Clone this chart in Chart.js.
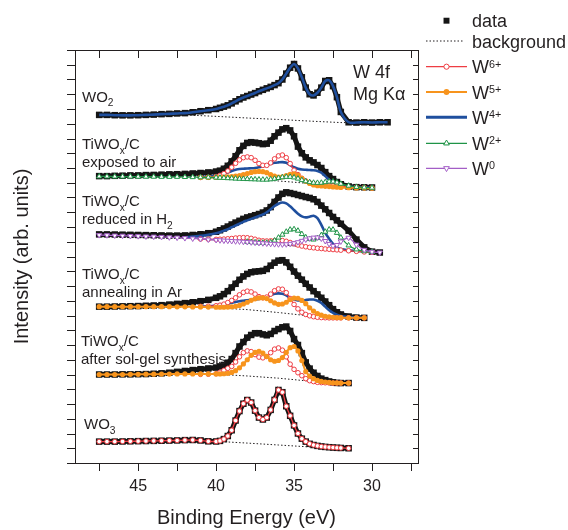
<!DOCTYPE html>
<html>
<head>
<meta charset="utf-8">
<script src="https://cdn.jsdelivr.net/npm/chart.js@4.4.0/dist/chart.umd.min.js"></script>
<style>
  html, body { margin: 0; padding: 0; background: #fff; }
  canvas { display: block; }
</style>
</head>
<body>
<canvas id="xps" width="568" height="530"></canvas>
<script>
// binding energy grid (eV), denser over the W 4f region
const E_GRID = [47.5, 47, 46.5, 46, 45.5, 45, 44.5, 44, 43.5, 43, 42.5, 42, 41.5, 41, 40.5, 40,
  39.75, 39.5, 39.25, 39, 38.75, 38.5, 38.25, 38, 37.75, 37.5, 37.25, 37, 36.75, 36.5, 36.25, 36,
  35.75, 35.5, 35.25, 35, 34.75, 34.5, 34.25, 34, 33.75, 33.5, 33.25, 33, 32.75, 32.5, 32.25, 32,
  31.5, 31, 30.5, 30, 29.5, 29];
// background points (eV)
const BG_E = [47.5, 44, 42, 40, 38, 36, 34, 33, 32, 31.5, 31, 30.5, 30, 29.5, 29];

const X_TICKS = [45, 40, 35, 30];
const X_MINOR = [47.5, 42.5, 37.5, 32.5, 27.5];
const X_MIN = 27.05, X_MAX = 49.05;
const Y_MAX = 28;

// WO2
const WO2_DATA = [23.6, 23.6, 23.58, 23.57, 23.57, 23.58, 23.6, 23.62, 23.65, 23.67, 23.7, 23.72, 23.78, 23.85, 23.92, 24.0,
  24.08, 24.16, 24.25, 24.38, 24.52, 24.66, 24.78, 24.88, 24.98, 25.08, 25.2, 25.3, 25.4, 25.5, 25.62, 25.75,
  26.0, 26.4, 26.8, 27.05, 26.75, 26.15, 25.45, 25.0, 24.92, 25.1, 25.45, 25.9, 25.95, 25.55, 24.8, 23.8,
  23.1, 23.08, 23.1, 23.08, 23.1, 23.1];
const WO2_W4 = WO2_DATA;
const WO2_BG = [23.6, 23.6, 23.6, 23.5, 23.39, 23.29, 23.18, 23.13, 23.08, 23.08, 23.08, 23.08, 23.08, 23.08, 23.08];

// TiWOx/C exposed to air
const AIR_DATA = [19.45, 19.45, 19.47, 19.48, 19.5, 19.5, 19.52, 19.53, 19.55, 19.57, 19.58, 19.6, 19.63, 19.66, 19.7, 19.76,
  19.82, 19.95, 20.15, 20.45, 20.8, 21.2, 21.5, 21.7, 21.75, 21.72, 21.68, 21.62, 21.65, 21.85, 22.15, 22.4,
  22.62, 22.7, 22.55, 22.15, 21.45, 21.0, 20.72, 20.52, 20.38, 20.2, 20.0, 19.72, 19.45, 19.25, 19.05, 18.9,
  18.75, 18.7, 18.69, 18.68];
const AIR_BG = [19.43, 19.42, 19.4, 19.35, 19.25, 19.12, 18.95, 18.86, 18.78, 18.74, 18.71, 18.68, 18.66];
const AIR_W6 = [19.36, 19.37, 19.42,
  19.5, 19.62, 19.8, 20.05, 20.32, 20.55, 20.7, 20.75, 20.7, 20.52, 20.3, 20.18, 20.18, 20.35, 20.62, 20.82,
  20.88, 20.7, 20.3, 19.85, 19.55, 19.3, 19.12, 19.0, 18.95, 18.9, 18.87, 18.85, 18.82, 18.8, 18.78, 18.76,
  18.72, 18.7, 18.68, 18.66];
const AIR_W5 = [19.36, 19.36, 19.36,
  19.37, 19.38, 19.4, 19.42, 19.45, 19.48, 19.55, 19.62, 19.7, 19.75, 19.77, 19.75, 19.68, 19.55, 19.45, 19.38,
  19.4, 19.48, 19.57, 19.6, 19.5, 19.3, 19.1, 18.95, 18.85, 18.8, 18.78, 18.76, 18.74, 18.72, 18.7, 18.68,
  18.66, 18.65, 18.64, 18.63];
const AIR_W4 = [19.38, 19.42, 19.47,
  19.52, 19.6, 19.7, 19.8, 19.88, 19.93, 19.95, 19.97, 19.98, 20.0, 20.05, 20.12, 20.2, 20.28, 20.35, 20.38,
  20.4, 20.35, 20.2, 20.05, 19.95, 19.9, 19.88, 19.86, 19.85, 19.8, 19.68, 19.45, 19.2, 19.0, 18.85, 18.78,
  18.72, 18.7, 18.68, 18.66];
const AIR_W2 = [19.43, 19.43, 19.42, 19.42, 19.42, 19.41, 19.41, 19.41, 19.4, 19.4, 19.4, 19.39, 19.38, 19.37, 19.36, 19.35,
  19.34, 19.33, 19.31, 19.3, 19.28, 19.27, 19.26, 19.25, 19.24, 19.23, 19.22, 19.21, 19.21, 19.23, 19.27, 19.32,
  19.37, 19.4, 19.4, 19.36, 19.28, 19.18, 19.1, 19.04, 19.0, 18.99, 19.0, 19.04, 19.08, 19.08, 19.02, 18.93,
  18.8, 18.72, 18.68, 18.66];

// TiWOx/C reduced in H2
const H2_DATA = [15.5, 15.5, 15.49, 15.48, 15.47, 15.46, 15.45, 15.44, 15.43, 15.42, 15.42, 15.43, 15.46, 15.51, 15.58, 15.68,
  15.78, 15.9, 16.03, 16.17, 16.3, 16.42, 16.55, 16.65, 16.72, 16.8, 16.88, 16.98, 17.12, 17.35, 17.7, 18.0,
  18.25, 18.35, 18.3, 18.24, 18.17, 18.1, 18.03, 17.97, 17.88, 17.7, 17.45, 17.2, 16.95, 16.68, 16.45, 16.22,
  15.75, 15.15, 14.62, 14.33, 14.27];
const H2_BG = [15.45, 15.35, 15.25, 15.12, 14.98, 14.82, 14.62, 14.52, 14.42, 14.38, 14.34, 14.31, 14.29, 14.27];
const H2_W6 = [15.19, 15.17, 15.16,
  15.17, 15.18, 15.2, 15.22, 15.25, 15.27, 15.28, 15.27, 15.23, 15.17, 15.1, 15.06, 15.05, 15.06, 15.08, 15.09,
  15.08, 15.03, 14.95, 14.86, 14.78, 14.71, 14.66, 14.62, 14.59, 14.56, 14.54, 14.51, 14.49, 14.47, 14.45, 14.43,
  14.39, 14.35, 14.31, 14.28];
const H2_W4 = [15.3, 15.35, 15.4, 15.48, 15.58,
  15.65, 15.75, 15.85, 15.98, 16.1, 16.22, 16.35, 16.45, 16.55, 16.65, 16.75, 16.85, 17.0, 17.2, 17.42, 17.58,
  17.66, 17.6, 17.4, 17.15, 16.9, 16.72, 16.65, 16.7, 16.76, 16.6, 16.15, 15.6, 15.2, 14.85, 14.62, 14.5,
  14.42, 14.38, 14.34, 14.3];
const H2_W2 = [15.0, 14.98, 14.96, 14.94, 14.93, 14.93, 14.96, 15.08, 15.28,
  15.48, 15.68, 15.82, 15.85, 15.75, 15.52, 15.3, 15.18, 15.15, 15.25, 15.45, 15.68, 15.83, 15.82, 15.6, 15.28,
  14.75, 14.48, 14.36, 14.31];
const H2_W0 = [15.45, 15.44, 15.42, 15.41, 15.39, 15.38, 15.36, 15.35, 15.33, 15.3, 15.28, 15.25, 15.22, 15.19, 15.15, 15.12,
  15.1, 15.08, 15.07, 15.05, 15.03, 15.02, 15.0, 14.98, 14.96, 14.94, 14.92, 14.9, 14.88, 14.86, 14.84, 14.83,
  14.82, 14.83, 14.86, 14.9, 14.97, 15.06, 15.15, 15.23, 15.28, 15.29, 15.22, 15.05, 14.85, 14.72, 14.78, 15.02,
  15.27, 14.8, 14.45, 14.32, 14.27];

// TiWOx/C annealing in Ar
const AR_DATA = [10.6, 10.6, 10.61, 10.62, 10.63, 10.64, 10.66, 10.68, 10.7, 10.74, 10.79, 10.84, 10.9, 10.97, 11.06, 11.2,
  11.3, 11.45, 11.65, 11.9, 12.15, 12.42, 12.65, 12.82, 12.93, 12.98, 13.0, 13.03, 13.15, 13.38, 13.58, 13.72,
  13.75, 13.6, 13.3, 12.98, 12.7, 12.43, 12.15, 11.9, 11.65, 11.43, 11.2, 10.95, 10.7, 10.43, 10.22, 10.07,
  9.93, 9.86, 9.84];
const AR_BG = [10.6, 10.6, 10.58, 10.52, 10.4, 10.2, 9.97, 9.88, 9.85, 9.84, 9.84, 9.84];
const AR_W6 = [10.62, 10.63, 10.66,
  10.7, 10.77, 10.88, 11.02, 11.2, 11.4, 11.57, 11.65, 11.6, 11.45, 11.28, 11.2, 11.25, 11.45, 11.68, 11.8,
  11.78, 11.55, 11.15, 10.75, 10.45, 10.22, 10.07, 9.98, 9.92, 9.88, 9.86, 9.85, 9.84, 9.84, 9.84, 9.84,
  9.84, 9.84, 9.84];
const AR_W4 = [10.6, 10.63, 10.68,
  10.72, 10.76, 10.8, 10.86, 10.92, 10.97, 11.0, 11.03, 11.05, 11.08, 11.12, 11.18, 11.27, 11.38, 11.47, 11.5,
  11.47, 11.36, 11.2, 11.08, 11.02, 11.02, 11.05, 11.08, 11.08, 11.0, 10.85, 10.6, 10.35, 10.18, 10.05, 9.97,
  9.9, 9.86, 9.84];
const AR_W5 = [10.6, 10.6, 10.6, 10.6, 10.6, 10.6, 10.6, 10.6, 10.6, 10.6, 10.59, 10.59, 10.58, 10.58, 10.57, 10.56,
  10.56, 10.56, 10.57, 10.59, 10.62, 10.68, 10.78, 10.9, 11.03, 11.13, 11.19, 11.2, 11.15, 11.0, 10.85, 10.76,
  10.78, 10.9, 11.08, 11.18, 11.17, 11.02, 10.8, 10.52, 10.3, 10.13, 10.02, 9.95, 9.91, 9.88, 9.86, 9.85,
  9.84, 9.84, 9.84];

// TiWOx/C after sol-gel synthesis
const SG_DATA = [6.0, 6.0, 6.0, 6.01, 6.01, 6.02, 6.03, 6.05, 6.08, 6.12, 6.18, 6.24, 6.3, 6.36, 6.41, 6.47,
  6.55, 6.65, 6.8, 7.05, 7.45, 7.9, 8.2, 8.5, 8.68, 8.8, 8.8, 8.72, 8.66, 8.75, 8.95, 9.08,
  9.2, 9.25, 8.95, 8.4, 8.0, 7.45, 6.82, 6.4, 6.12, 5.9, 5.72, 5.62, 5.53, 5.47, 5.43, 5.42,
  5.42];
const SG_BG = [6.0, 6.01, 6.02, 6.02, 5.9, 5.75, 5.55, 5.46, 5.43, 5.42];
const SG_W6 = [6.01, 6.02, 6.05,
  6.15, 6.28, 6.42, 6.55, 6.85, 7.2, 7.48, 7.6, 7.55, 7.35, 7.18, 7.13, 7.22, 7.48, 7.72, 7.8,
  7.65, 7.2, 6.7, 6.35, 6.12, 5.92, 5.72, 5.58, 5.52, 5.47, 5.45, 5.44, 5.43, 5.42, 5.42, 5.42,
  5.42];
const SG_W5 = [6.0, 6.0, 6.0, 6.0, 6.01, 6.01, 6.02, 6.02, 6.03, 6.03, 6.04, 6.04, 6.04, 6.04, 6.04, 6.04,
  6.04, 6.05, 6.08, 6.14, 6.26, 6.45, 6.72, 7.0, 7.3, 7.5, 7.57, 7.45, 7.22, 7.0, 6.9, 6.95,
  7.15, 7.5, 7.82, 7.9, 7.6, 6.95, 6.2, 5.9, 5.72, 5.6, 5.53, 5.49, 5.46, 5.44, 5.43, 5.42,
  5.42];

// WO3
const WO3_DATA = [1.45, 1.45, 1.45, 1.46, 1.47, 1.48, 1.49, 1.5, 1.51, 1.52, 1.53, 1.55, 1.56, 1.53, 1.47, 1.46,
  1.5, 1.62, 1.83, 2.22, 2.88, 3.52, 4.02, 4.27, 4.1, 3.55, 3.08, 2.95, 3.08, 3.6, 4.28, 4.95,
  4.8, 3.85, 3.2, 2.55, 2.0, 1.65, 1.45, 1.3, 1.22, 1.16, 1.12, 1.09, 1.07, 1.05, 1.03, 1.02,
  1.0];
const WO3_W6 = WO3_DATA;
const WO3_BG = [1.45, 1.46, 1.48, 1.47, 1.35, 1.22, 1.09, 1.05, 1.02, 1.0];

const INK = '#231f20';
const FONT = '"Liberation Sans", Arial, Helvetica, sans-serif';
const RED = '#ee3d43', ORANGE = '#f7941d', BLUE = '#1f4f9e', GREEN = '#1f9447', PURPLE = '#a35ec6';

const STYLES = {
  data: { borderColor: '#151515', backgroundColor: '#151515', borderWidth: 5, pointStyle: 'rect', pointRadius: 4.6, pointBorderWidth: 0, tension: 0, order: 9 },
  bg:   { borderColor: INK, borderWidth: 1, borderDash: [1.5, 2], pointRadius: 0, tension: 0, order: 7 },
  w4:   { borderColor: BLUE, borderWidth: 2.6, pointRadius: 0, tension: 0.3, order: 5 },
  w6:   { borderColor: RED, borderWidth: 1.3, pointStyle: 'circle', pointRadius: 2.3, pointBorderWidth: 1, pointBorderColor: RED, pointBackgroundColor: '#fff', tension: 0.3, order: 4 },
  w5:   { borderColor: ORANGE, borderWidth: 2, pointStyle: 'circle', pointRadius: 2.6, pointBorderWidth: 0, pointBackgroundColor: ORANGE, tension: 0.3, order: 3 },
  w2:   { borderColor: GREEN, borderWidth: 1.3, pointStyle: 'triangle', pointRadius: 3, pointBorderWidth: 1, pointBorderColor: GREEN, pointBackgroundColor: '#fff', tension: 0.3, order: 2 },
  w0:   { borderColor: PURPLE, borderWidth: 1.3, pointStyle: 'triangle', pointRotation: 180, pointRadius: 3, pointBorderWidth: 1, pointBorderColor: PURPLE, pointBackgroundColor: '#fff', tension: 0.3, order: 1 }
};

// [values, first energy, style, energy grid]
const SERIES = [
  [WO2_DATA, 47.5, 'data'], [WO2_BG, 47.5, 'bg', BG_E], [WO2_W4, 47.5, 'w4'],
  [AIR_DATA, 47.5, 'data'], [AIR_BG, 47.5, 'bg', BG_E], [AIR_W4, 41, 'w4'], [AIR_W6, 41, 'w6'], [AIR_W5, 41, 'w5'], [AIR_W2, 47.5, 'w2'],
  [H2_DATA, 47.5, 'data'], [H2_BG, 47.5, 'bg', BG_E], [H2_W4, 42, 'w4'], [H2_W6, 41, 'w6'], [H2_W2, 38, 'w2'], [H2_W0, 47.5, 'w0'],
  [AR_DATA, 47.5, 'data'], [AR_BG, 47.5, 'bg', BG_E], [AR_W4, 41, 'w4'], [AR_W6, 41, 'w6'], [AR_W5, 47.5, 'w5'],
  [SG_DATA, 47.5, 'data'], [SG_BG, 47.5, 'bg', BG_E], [SG_W6, 41, 'w6'], [SG_W5, 47.5, 'w5'],
  [WO3_DATA, 47.5, 'data'], [WO3_BG, 47.5, 'bg', BG_E], [WO3_W6, 47.5, 'w6']
];

function toPoints(values, from, grid) {
  const i0 = grid.indexOf(from);
  return values.map((v, i) => ({ x: grid[i0 + i], y: v }));
}

const datasets = SERIES.map(([values, from, style, grid]) => Object.assign({
  data: toPoints(values, from, grid || E_GRID), fill: false
}, STYLES[style]));

// text with sub/superscripts: parts = [[text, ''|'sub'|'sup'], ...]
function richText(ctx, parts, x, y, size) {
  parts.forEach(([t, mode]) => {
    const s = mode ? size * (mode === 'sup' ? 0.6 : 0.68) : size;
    const dy = mode === 'sub' ? size * 0.33 : mode === 'sup' ? -size * 0.3 : 0;
    ctx.font = `${s}px ${FONT}`;
    ctx.fillText(t, x, y + dy);
    x += ctx.measureText(t).width;
  });
  return x;
}

const TIWOX = [['TiWO', ''], ['x', 'sub'], ['/C', '']];
const SAMPLE_LABELS = [
  [[['WO', ''], ['2', 'sub']]],
  [TIWOX, [['exposed to air', '']]],
  [TIWOX, [['reduced in H', ''], ['2', 'sub']]],
  [TIWOX, [['annealing in Ar', '']]],
  [TIWOX, [['after sol-gel synthesis', '']]],
  [[['WO', ''], ['3', 'sub']]]
];
const LABEL_POS = [[82, 101.5], [82, 149], [82, 206], [82, 279], [81, 346], [84, 429]];

const LEGEND_ITEMS = [
  ['data', [['data', '']]],
  ['bg', [['background', '']]],
  ['w6', [['W', ''], ['6+', 'sup']]],
  ['w5', [['W', ''], ['5+', 'sup']]],
  ['w4', [['W', ''], ['4+', 'sup']]],
  ['w2', [['W', ''], ['2+', 'sup']]],
  ['w0', [['W', ''], ['0', 'sup']]]
];
const LEGEND_ROWS = [20.7, 41, 66.7, 92, 117.3, 143.3, 168.3];

const framePlugin = {
  id: 'frame',
  afterDatasetsDraw(chart) {
    const { ctx, chartArea: a, scales: { x, y } } = chart;
    ctx.save();
    ctx.strokeStyle = INK;
    ctx.lineWidth = 1;
    ctx.strokeRect(a.left + 0.5, a.top + 0.5, a.right - a.left, a.bottom - a.top);
    ctx.beginPath();
    X_TICKS.concat(X_MINOR).forEach(v => {
      const px = Math.round(x.getPixelForValue(v)) + 0.5;
      ctx.moveTo(px, a.bottom); ctx.lineTo(px, a.bottom + 8);
      ctx.moveTo(px, a.top); ctx.lineTo(px, a.top + 8);
    });
    y.ticks.forEach(t => {
      const py = Math.round(y.getPixelForValue(t.value)) + 0.5;
      ctx.moveTo(a.left, py); ctx.lineTo(a.left - 8, py);
      ctx.moveTo(a.right, py); ctx.lineTo(a.right - 5, py);
    });
    ctx.stroke();
    ctx.restore();
  }
};

const textPlugin = {
  id: 'texts',
  afterDraw(chart) {
    const ctx = chart.ctx;
    ctx.save();
    ctx.fillStyle = INK;
    ctx.textBaseline = 'alphabetic';
    SAMPLE_LABELS.forEach((lines, i) => {
      const [lx, ly] = LABEL_POS[i];
      lines.forEach((parts, j) => richText(ctx, parts, lx, ly + j * 18, 15));
    });
    richText(ctx, [['W 4f', '']], 353, 77.5, 18);
    richText(ctx, [['Mg K\u03b1', '']], 353, 100, 18);

    // legend
    LEGEND_ITEMS.forEach(([key, parts], i) => {
      const ry = LEGEND_ROWS[i];
      const st = STYLES[key];
      ctx.save();
      if (key !== 'data') {
        ctx.strokeStyle = st.borderColor;
        ctx.lineWidth = key === 'w4' ? 3 : (st.borderWidth || 1);
        ctx.setLineDash(st.borderDash || []);
        ctx.beginPath();
        ctx.moveTo(426, ry); ctx.lineTo(key === 'bg' ? 463 : 467, ry);
        ctx.stroke();
        ctx.setLineDash([]);
      }
      if (st.pointRadius) {
        ctx.fillStyle = st.pointBackgroundColor || st.backgroundColor;
        ctx.strokeStyle = st.pointBorderColor || st.borderColor;
        ctx.lineWidth = st.pointBorderWidth || 0;
        Chart.helpers.drawPoint(ctx, {
          pointStyle: st.pointStyle, radius: key === 'data' ? 4.2 : st.pointRadius + 0.3,
          rotation: st.pointRotation || 0, borderWidth: st.pointBorderWidth || 0
        }, 446.5, ry);
      }
      ctx.restore();
      ctx.fillStyle = INK;
      richText(ctx, parts, 472, ry + 6.5, 18);
    });
    ctx.restore();
  }
};

Chart.defaults.font.family = FONT;
Chart.defaults.color = INK;

new Chart(document.getElementById('xps'), {
  type: 'line',
  data: { datasets },
  options: {
    responsive: false,
    animation: false,
    events: [],
    layout: { padding: { top: 50, right: 150, left: 0, bottom: 0 } },
    plugins: { legend: { display: false }, tooltip: { enabled: false } },
    scales: {
      x: {
        type: 'linear', reverse: true, min: X_MIN, max: X_MAX,
        afterFit: s => { s.height = 67; },
        afterBuildTicks: s => { s.ticks = X_TICKS.map(v => ({ value: v })); },
        grid: { display: false, drawTicks: false },
        border: { display: false },
        ticks: { font: { size: 16 }, color: INK, padding: 14, maxRotation: 0, autoSkip: false },
        title: { display: true, text: 'Binding Energy (eV)', font: { size: 20 }, color: INK, padding: { top: 0, bottom: 0 } }
      },
      y: {
        type: 'linear', min: 0, max: Y_MAX,
        afterFit: s => { s.width = 75; },
        ticks: { display: false, stepSize: 1 },
        grid: { display: false, drawTicks: false },
        border: { display: false },
        title: { display: true, text: 'Intensity (arb. units)', font: { size: 20 }, color: INK, padding: { top: 10, bottom: 0 } }
      }
    }
  },
  plugins: [framePlugin, textPlugin]
});
</script>
</body>
</html>
